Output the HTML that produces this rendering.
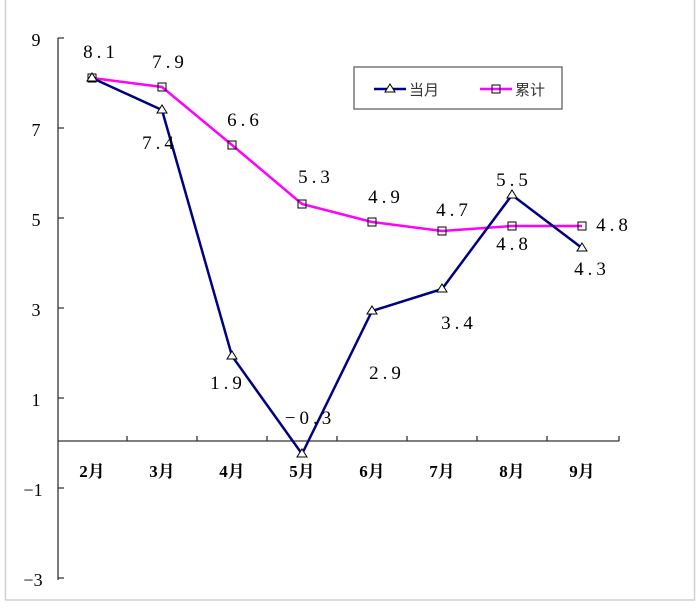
<!DOCTYPE html>
<html><head><meta charset="utf-8"><style>body{margin:0;background:#fff}</style></head><body>
<svg width="700" height="606" xmlns="http://www.w3.org/2000/svg" font-family="Liberation Serif, Noto Serif CJK SC, serif">
<rect x="5.5" y="-2" width="689" height="602" fill="none" stroke="#d0d0d0" stroke-width="1.5"/>
<g stroke="#333" stroke-width="1.3" fill="none">
<line x1="58" y1="38" x2="58" y2="580"/>
<path d="M58 38h6M58 128h6M58 218h6M58 308h6M58 398h6M58 488h6M58 578h6"/>
<line x1="58" y1="441" x2="619" y2="441"/>
<path d="M127 441v-5M197 441v-5M267 441v-5M337 441v-5M407 441v-5M477 441v-5M547 441v-5M619 441v-5"/>
</g>
<g font-size="18" fill="#000" text-anchor="middle">
<text x="36" y="46">9</text><text x="36" y="136">7</text><text x="36" y="226">5</text><text x="36" y="316">3</text><text x="36" y="406">1</text><text x="33" y="496">−1</text><text x="33" y="586">−3</text>
</g>
<g font-size="17" fill="#000" text-anchor="middle" font-weight="bold">
<text x="92" y="477">2月</text><text x="162" y="477">3月</text><text x="232" y="477">4月</text><text x="302" y="477">5月</text><text x="372" y="477">6月</text><text x="442" y="477">7月</text><text x="512" y="477">8月</text><text x="582" y="477">9月</text>
</g>
<polyline fill="none" stroke="#f0f" stroke-width="2.5" points="92,78 162,87 232,145 302,204 372,222 442,231 512,226 582,226"/>
<polyline fill="none" stroke="#000080" stroke-width="2.5" points="92,78 162,110 232,356 302,454 372,311 442,289 512,195 582,248"/>
<g fill="none" stroke="#000" stroke-width="1">
<rect x="88" y="74" width="8" height="8"/><rect x="158" y="83" width="8" height="8"/><rect x="228" y="141" width="8" height="8"/><rect x="298" y="200" width="8" height="8"/><rect x="368" y="218" width="8" height="8"/><rect x="438" y="227" width="8" height="8"/><rect x="508" y="222" width="8" height="8"/><rect x="578" y="222" width="8" height="8"/>
<path d="M92 73l5 8h-10zM162 105l5 8h-10zM232 351l5 8h-10zM302 449l5 8h-10zM372 306l5 8h-10zM442 284l5 8h-10zM512 190l5 8h-10zM582 243l5 8h-10z" fill="#fff"/>
</g>
<g font-size="19" fill="#000" text-anchor="middle" letter-spacing="4">
<text x="101" y="58">8.1</text><text x="170" y="68">7.9</text><text x="160" y="149">7.4</text><text x="245" y="126">6.6</text><text x="228" y="389">1.9</text><text x="316" y="183">5.3</text><text x="310" y="424">−0.3</text><text x="386" y="203">4.9</text><text x="387" y="379">2.9</text><text x="454" y="216">4.7</text><text x="459" y="329">3.4</text><text x="514" y="186">5.5</text><text x="514" y="250">4.8</text><text x="592" y="275">4.3</text><text x="614" y="231">4.8</text>
</g>
<rect x="354" y="67" width="208" height="42" fill="#fff" stroke="#555" stroke-width="1.2"/>
<line x1="374" y1="89" x2="406" y2="89" stroke="#000080" stroke-width="2.5"/>
<path d="M390 84l5 8h-10z" fill="#fff" stroke="#000"/>
<text x="409" y="95" font-size="15" font-family="Liberation Sans, Noto Sans CJK SC, sans-serif" fill="#333">当月</text>
<line x1="480" y1="89" x2="512" y2="89" stroke="#f0f" stroke-width="2.5"/>
<rect x="492" y="85" width="8" height="8" fill="none" stroke="#000"/>
<text x="515" y="95" font-size="15" font-family="Liberation Sans, Noto Sans CJK SC, sans-serif" fill="#333">累计</text>
</svg>
</body></html>
